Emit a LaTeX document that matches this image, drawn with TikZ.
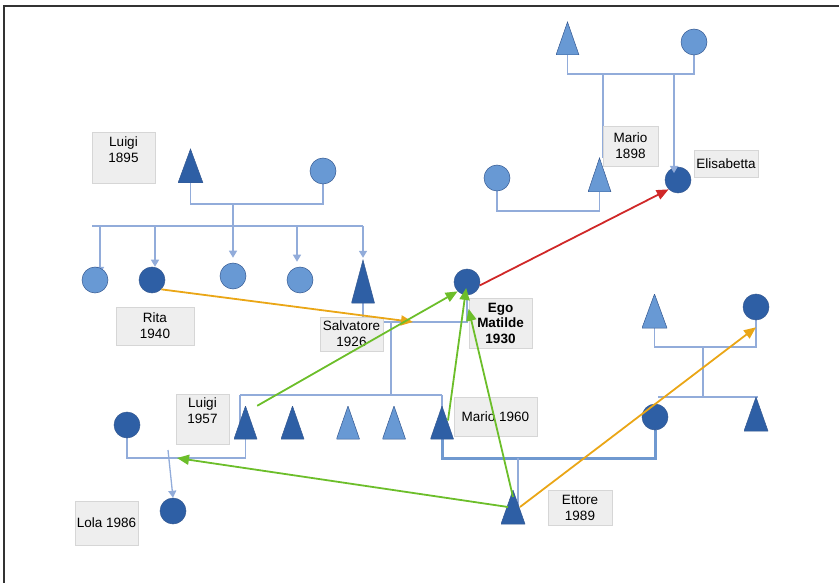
\documentclass[tikz,border=0pt]{standalone}
\usepackage{fontspec}
\setmainfont{Liberation Sans}
\usetikzlibrary{arrows.meta,backgrounds}

\definecolor{bluScuro}{RGB}{46,95,165}
\definecolor{bluChiaro}{RGB}{104,153,212}
\definecolor{bordoBlu}{RGB}{52,88,145}
\definecolor{linea}{RGB}{146,172,218}
\definecolor{lineaSpessa}{RGB}{112,153,208}
\definecolor{grigioBox}{RGB}{238,238,238}
\definecolor{bordoBox}{RGB}{214,214,214}
\definecolor{verde}{RGB}{108,190,42}
\definecolor{arancio}{RGB}{234,166,22}
\definecolor{rosso}{RGB}{208,40,40}

\tikzset{
  donna/.style={circle, minimum size=26pt, inner sep=0pt, draw=bordoBlu, line width=0.5pt, fill=#1},
  uomo/.style={minimum width=24pt, minimum height=34pt, inner sep=0pt,
    path picture={\filldraw[fill=#1, draw=bordoBlu, line width=0.5pt]
      (path picture bounding box.south west) -- (path picture bounding box.south east)
      -- (path picture bounding box.north) -- cycle;}},
  cartellino/.style={draw=bordoBox, fill=grigioBox, line width=0.8pt, align=center,
    inner sep=0pt, font=\fontsize{13.5}{16}\selectfont},
  parentela/.style={draw=linea, line width=1.3pt},
  discende/.style={parentela, -{Triangle[length=7pt,width=8pt]}},
  freccia/.style={line width=1.8pt, -{Triangle[length=12pt,width=10pt]}},
}

\begin{document}
\begin{tikzpicture}[x=1pt, y=-1pt]
    \useasboundingbox (0,0) rectangle (839,583);

    % Cornice
    \draw[line width=1.5pt, black!80] (4,583) -- (4,6) -- (839,6);

    % Punti di unione
    \coordinate (uA) at (233,204);
    \coordinate (fA) at (92,226);
    \coordinate (fB) at (363,226);
    \coordinate (uB) at (391,322);
    \coordinate (nozzeSM) at (413,322);
    \coordinate (gB1) at (240,395);
    \coordinate (gB2) at (442,395);
    \coordinate (nozzeL) at (177,458);
    \coordinate (uC) at (168,450);
    \coordinate (uD) at (518,458);
    \coordinate (uE) at (703,347);
    \coordinate (fE1) at (658,397);
    \coordinate (fE2) at (758,397);
    \coordinate (uF) at (603,74);
    \coordinate (uF2) at (674,74);
    \coordinate (uG) at (548,211);

    % Nonni paterni e figli
    \node[uomo=bluScuro, minimum width=25pt] (luigi1) at (190.5,166) {};
    \node[donna=bluChiaro] (nonna1) at (323,171) {};
    \node[donna=bluChiaro] (fig1) at (95,280) {};
    \node[donna=bluScuro] (rita) at (152,280) {};
    \node[donna=bluChiaro] (fig3) at (233,276) {};
    \node[donna=bluChiaro] (fig4) at (300,280) {};
    \node[uomo=bluScuro, minimum width=23pt, minimum height=43pt] (salvatore) at (363,281.5) {};

    % Ego
    \node[donna=bluScuro] (matilde) at (467,282) {};

    % Figli di Salvatore e Matilde
    \node[uomo=bluScuro, minimum width=23pt, minimum height=33pt] (luigi57) at (245.5,422.5) {};
    \foreach \x/\n/\c in {292.5/fr2/bluScuro, 348/fr3/bluChiaro, 394/fr4/bluChiaro}
        \node[uomo=\c, minimum width=23pt, minimum height=33pt] (\n) at (\x,422.5) {};
    \node[uomo=bluScuro, minimum width=23pt, minimum height=33pt] (mario60) at (442,422.5) {};

    % Famiglia di Luigi 1957
    \node[donna=bluScuro] (moglieL) at (127,425) {};
    \node[donna=bluScuro] (lola) at (173,511) {};

    % Famiglia di Mario 1960
    \node[donna=bluScuro] (moglieM) at (655,417) {};
    \node[uomo=bluScuro] (ettore) at (513,507) {};
    \node[uomo=bluChiaro, minimum width=25pt] (uomoE) at (654.5,311) {};
    \node[donna=bluScuro] (donnaE) at (756,307) {};
    \node[uomo=bluScuro] (fratelloE) at (756,414) {};

    % Nonni materni
    \node[uomo=bluChiaro, minimum width=23pt, minimum height=33pt] (nonnoF) at (567.5,38.5) {};
    \node[donna=bluChiaro] (nonnaF) at (694,42) {};
    \node[donna=bluScuro] (elisabetta) at (678,180) {};
    \node[uomo=bluChiaro, minimum width=23pt] (mario98) at (599.5,175) {};
    \node[donna=bluChiaro] (moglieMa) at (497,178) {};

    % Linee di parentela
    \begin{scope}[on background layer]
        \draw[parentela] (luigi1.south) |- (uA) -| (nonna1.south);
        \draw[parentela] (fA) -- (fB);
        \draw[discende, shorten >=5pt] (uA) -- (fig3.north);
        \draw[discende, shorten >=6pt] ([xshift=5pt]fig1.center |- fA) -- ([xshift=5pt]fig1.center);
        \draw[discende] ([xshift=3pt]rita.north |- fA) -- ([xshift=3pt]rita.north);
        \draw[discende, shorten >=5pt] ([xshift=-3pt]fig4.north |- fA) -- ([xshift=-3pt]fig4.north);
        \draw[discende, shorten >=2pt] (salvatore.north |- fA) -- (salvatore.north);

        \draw[parentela] (salvatore.south) |- (uB) -| (matilde.south);
        \draw[parentela] (uB) -- (uB |- gB1);
        \draw[parentela] (gB1) -- (gB2);
        \draw[parentela] (gB1) -- (gB1 |- luigi57.center);
        \draw[parentela] (gB2) -- (gB2 |- mario60.center);

        \draw[parentela] (moglieL.south) |- (nozzeL) -| (luigi57.south);
        \draw[discende] (uC) -- (lola.north);

        \draw[parentela, draw=lineaSpessa, line width=3pt] (mario60.south) |- (uD) -| (moglieM.south);
        \draw[parentela] (uD) -- (uD |- ettore.center);

        \draw[parentela] (uomoE.south) |- (uE) -| (donnaE.south);
        \draw[parentela] (uE) -- (uE |- fE1);
        \draw[parentela] (fE1) -- (fE2);

        \draw[parentela] (nonnoF.south) |- (uF) -| (nonnaF.south);
        \draw[parentela] (uF) -- (uF |- mario98.north);
        \draw[parentela] (moglieMa.south) |- (uG) -| (mario98.south);
    \end{scope}
    \draw[discende, shorten >=7pt] (uF2) -- (uF2 |- elisabetta.center);

    % Cartellini
    \node[cartellino, minimum width=63pt, minimum height=51pt] (tLuigi1) at (123.5,157.5) {Luigi\\1895\\\mbox{}};
    \node[cartellino, minimum width=78pt, minimum height=38pt] (tRita) at (155,326) {Rita\\1940};
    \node[cartellino, minimum width=63pt, minimum height=34pt] (tSalvatore) at (351.5,334) {Salvatore\\1926};
    \node[cartellino, minimum width=63pt, minimum height=50pt, font=\fontsize{13.5}{15.5}\selectfont\bfseries] (tEgo) at (500.5,323) {Ego\\Matilde\\1930};
    \node[cartellino, minimum width=53pt, minimum height=50pt] (tLuigi57) at (202.5,419) {Luigi\\1957\\\mbox{}};
    \node[cartellino, minimum width=83pt, minimum height=39pt] (tMario60) at (495.5,416.5) {Mario 1960};
    \node[cartellino, minimum width=63pt, minimum height=44pt] (tLola) at (106.5,523) {Lola 1986};
    \node[cartellino, minimum width=64pt, minimum height=35pt] (tEttore) at (580,507.5) {Ettore\\1989};
    \node[cartellino, minimum width=55pt, minimum height=40pt] (tMario98) at (630.5,146) {Mario\\1898};
    \node[cartellino, minimum width=64pt, minimum height=27pt] (tElisabetta) at (726,163.5) {Elisabetta};

    % Frecce colorate
    \draw[freccia, arancio] (rita.south east) -- (nozzeSM);
    \draw[freccia, verde] (luigi57.north east) -- (matilde.225);
    \draw[freccia, verde, shorten >=6pt] ([xshift=6pt,yshift=2pt]mario60.center) -- (matilde.center);
    \draw[freccia, verde] ([yshift=10pt]ettore.center) -- (tEgo.156);
    \draw[freccia, verde] ([xshift=-5pt]ettore.center) -- (nozzeL);
    \draw[freccia, arancio] ([xshift=7pt]ettore.center) -- ([yshift=-7pt]donnaE.south);
    \draw[freccia, rosso] (matilde.-15) -- (elisabetta.south west);

\end{tikzpicture}
\end{document}
